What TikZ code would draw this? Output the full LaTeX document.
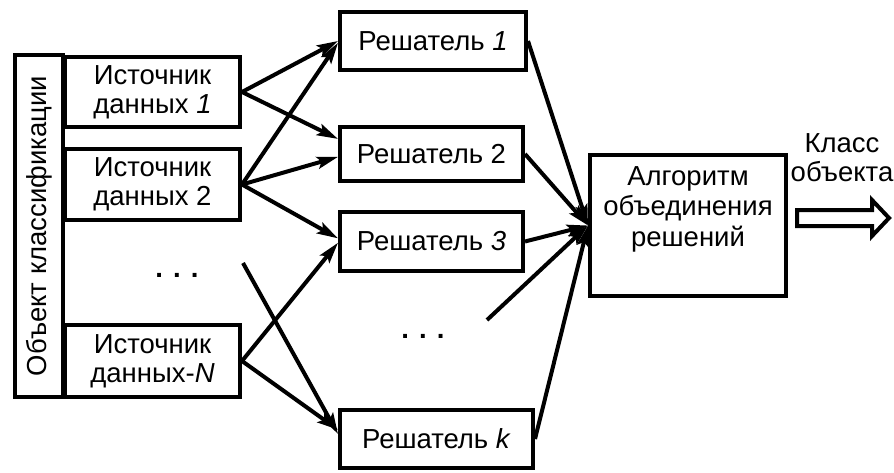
\documentclass[tikz,border=0pt]{standalone}
\usepackage{fontspec}
\setmainfont{Liberation Sans}
\usetikzlibrary{arrows.meta,calc}
\begin{document}
\begin{tikzpicture}[x=1pt,y=-1pt,
  txt/.style={font=\fontsize{27.5}{29}\selectfont, align=center, inner sep=0pt},
  box/.style={txt, draw, line width=4pt},
  dots/.style={font=\fontsize{27.5}{29}\selectfont\bfseries, inner sep=0pt},
  arr/.style={line width=4pt, -{Stealth[length=21pt,width=12pt,inset=4pt]}},
  pln/.style={line width=4pt}]
\useasboundingbox (0,0) rectangle (894,472);
% object
\node[box, rotate=90, minimum width=342pt, minimum height=48pt] (obj) at (39,226) {Объект классификации};
% sources
\node[box, minimum width=175pt, minimum height=70pt] (s1) at (152.5,92) {Источник\\данных \textit{1}};
\node[box, minimum width=175pt, minimum height=71pt] (s2) at (152.5,184.5) {Источник\\данных 2};
\node[box, minimum width=175pt, minimum height=72pt] (sN) at (152.5,361) {Источник\\данных-\textit{N}};
\node[dots] (d1) at (177,275) {. . .};
% solvers
\node[box, minimum width=186pt, minimum height=58pt] (r1) at (433,41) {Решатель \textit{1}};
\node[box, minimum width=183pt, minimum height=54pt] (r2) at (431.5,154) {Решатель 2};
\node[box, minimum width=183pt, minimum height=59pt] (r3) at (431.5,241.5) {Решатель \textit{3}};
\node[box, minimum width=193pt, minimum height=58pt] (rk) at (436.5,439) {Решатель \textit{k}};
\node[dots] (d2) at (423,336) {. . .};
% algorithm
\node[draw, line width=4pt, minimum width=196pt, minimum height=141pt, inner sep=0pt] (alg) at (688,225.5) {};
\node[txt, font=\fontsize{27.5}{30.5}\selectfont] (algt) at (688,209) {Алгоритм\\объединения\\решений};
% output
\node[txt] (cls) at (842,158) {Класс\\объекта};
\coordinate (o1) at (797,210);
\coordinate (o2) at (872,210);
\coordinate (o3) at (872,200);
\coordinate (o4) at (889,218);
\coordinate (o5) at (872,236);
\coordinate (o6) at (872,226);
\coordinate (o7) at (797,226);
\draw[line width=4pt, line join=miter] (o1) -- (o2) -- (o3) -- (o4) -- (o5) -- (o6) -- (o7) -- cycle;
% free ends
\coordinate (c1) at (243,263);
\coordinate (c2) at (487,320);
% sources to solvers
\draw[arr] (s1.east) -- (r1.west);
\draw[arr] (s1.east) -- ($(r2.north west)!0.24!(r2.south west)$);
\draw[arr] (s2.east) -- ($(r1.north west)!0.53!(r1.south west)$);
\draw[arr] (s2.east) -- ($(r2.north west)!0.55!(r2.south west)$);
\draw[arr] (s2.east) -- ($(r3.north west)!0.45!(r3.south west)$);
\draw[arr] (sN.east) -- ($(r3.north west)!0.52!(r3.south west)$);
\draw[arr] (sN.east) -- ($(rk.north west)!0.35!(rk.south west)$);
\draw[arr] (c1) -- ($(rk.north west)!0.42!(rk.south west)$);
% solvers to algorithm
\draw[arr] (r1.east) -- (alg.west);
\draw[arr] (r2.east) -- (alg.west);
\draw[arr] (r3.east) -- (alg.west);
\draw[arr] (c2) -- (alg.west);
\draw[arr] (rk.east) -- (alg.west);
\end{tikzpicture}
\end{document}
